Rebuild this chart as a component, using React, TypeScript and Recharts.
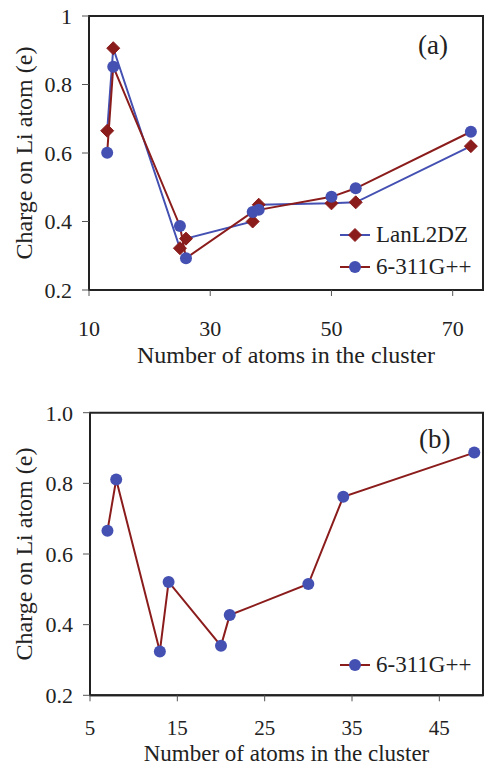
import { LineChart, Line, XAxis, YAxis, Legend, ReferenceArea } from "recharts";

// panel (a)
const atomsA = [13, 14, 25, 26, 37, 38, 50, 54, 73];
const lanl2dzA = [0.665, 0.906, 0.322, 0.35, 0.4, 0.449, 0.453, 0.456, 0.62];
const g311A = [0.601, 0.852, 0.387, 0.293, 0.428, 0.434, 0.472, 0.497, 0.662];
const xTicksA = [10, 30, 50, 70];
const yTicksA = [0.2, 0.4, 0.6, 0.8, 1];

// panel (b)
const atomsB = [7, 8, 13, 14, 20, 21, 30, 34, 49];
const g311B = [0.666, 0.811, 0.324, 0.521, 0.34, 0.427, 0.515, 0.762, 0.887];
const xTicksB = [5, 15, 25, 35, 45];
const yTicksB = [0.2, 0.4, 0.6, 0.8, 1.0];

const BLUE = "#4450b2";
const RED = "#8b1c1c";
const INK = "#222";
const FONT = "Liberation Serif";

const dataA = atomsA.map((n, i) => ({ n, lanl: lanl2dzA[i], g311: g311A[i] }));
const dataB = atomsB.map((n, i) => ({ n, g311: g311B[i] }));

const Diamond = ({ cx, cy }: { cx?: number; cy?: number }) => {
  if (cx == null || cy == null) return null;
  const s = 6.5;
  return (
    <polygon
      points={`${cx},${cy - s} ${cx + s},${cy} ${cx},${cy + s} ${cx - s},${cy}`}
      fill={RED}
      stroke={RED}
    />
  );
};

const YTitle = (props: any) => {
  const vb = props.viewBox || {};
  const x = 24;
  const y = vb.y + vb.height / 2;
  return (
    <text
      x={x}
      y={y}
      transform={`rotate(-90, ${x}, ${y})`}
      textAnchor="middle"
      dominantBaseline="central"
      fontSize={24}
      fontFamily={FONT}
      fill={INK}
    >
      Charge on Li atom (e)
    </text>
  );
};

const LegendRow = ({ line, marker, name }: { line: string; marker: "diamond" | "circle"; name: string }) => (
  <div style={{ display: "flex", alignItems: "center", height: 32 }}>
    <svg width={31} height={20}>
      <line x1={0} y1={10} x2={30} y2={10} stroke={line} strokeWidth={2} />
      {marker === "diamond" ? <Diamond cx={15} cy={10} /> : <circle cx={15} cy={10} r={6} fill={BLUE} />}
    </svg>
    <span style={{ marginLeft: 5 }}>{name}</span>
  </div>
);

const legendContent = (props: any) => {
  const items = [...(props.payload || [])].sort((a: any, b: any) =>
    a.dataKey === "lanl" ? -1 : b.dataKey === "lanl" ? 1 : 0
  );
  return (
    <div style={{ fontFamily: FONT, fontSize: 23, color: INK }}>
      {items.map((p: any) => (
        <LegendRow
          key={p.value}
          name={p.value}
          line={p.color}
          marker={p.dataKey === "lanl" ? "diamond" : "circle"}
        />
      ))}
    </div>
  );
};

const tickStyle = { fontSize: 22, fill: INK, fontFamily: FONT };
const tickStyleB = { fontSize: 21, fill: INK, fontFamily: FONT };

export default function App() {
  return (
    <div style={{ position: "absolute", left: 0, top: 0, width: 484, height: 767, background: "#fff", fontFamily: FONT }}>
      <div style={{ position: "absolute", left: 0, top: 0 }}>
        <LineChart width={484} height={380} data={dataA} margin={{ top: 16, right: 1, left: 0, bottom: 0 }}>
          <XAxis
            dataKey="n"
            type="number"
            domain={[10, 75]}
            ticks={xTicksA}
            height={90}
            tick={tickStyle}
            tickSize={6}
            tickMargin={24}
            axisLine={{ stroke: INK, strokeWidth: 2 }}
            tickLine={{ stroke: "#555" }}
            label={{ value: "Number of atoms in the cluster", position: "insideBottom", offset: 17, fontSize: 24, fill: INK, fontFamily: FONT }}
          />
          <YAxis
            type="number"
            domain={[0.2, 1]}
            ticks={yTicksA}
            width={89}
            tick={tickStyle}
            tickSize={7}
            tickMargin={10}
            axisLine={{ stroke: INK, strokeWidth: 2 }}
            tickLine={{ stroke: "#555" }}
            label={YTitle}
          />
          <ReferenceArea x1={10} x2={75} y1={0.2} y2={1} fill="none" stroke={INK} strokeWidth={2} />
          <Legend
            layout="vertical"
            align="center"
            verticalAlign="middle"
            content={legendContent}
            wrapperStyle={{ left: 340, top: 219, width: "auto", margin: 0 }}
          />
          <Line
            dataKey="lanl"
            name="LanL2DZ"
            stroke={BLUE}
            strokeWidth={2}
            dot={(p: any) => <Diamond key={`d${p.index}`} cx={p.cx} cy={p.cy} />}
            isAnimationActive={false}
          />
          <Line
            dataKey="g311"
            name="6-311G++"
            stroke={RED}
            strokeWidth={2}
            dot={{ r: 6, fill: BLUE, stroke: BLUE, strokeWidth: 0 }}
            isAnimationActive={false}
          />
        </LineChart>
        <div style={{ position: "absolute", left: 418, top: 30, fontSize: 27, color: INK, fontFamily: FONT }}>(a)</div>
      </div>

      <div style={{ position: "absolute", left: 0, top: 390 }}>
        <LineChart width={484} height={377} data={dataB} margin={{ top: 22.7, right: 1, left: 0, bottom: 0 }}>
          <XAxis
            dataKey="n"
            type="number"
            domain={[5, 50]}
            ticks={xTicksB}
            height={71.7}
            tick={tickStyleB}
            tickSize={6}
            tickMargin={19}
            axisLine={{ stroke: INK, strokeWidth: 2 }}
            tickLine={{ stroke: "#555" }}
            label={{ value: "Number of atoms in the cluster", position: "insideBottom", offset: 6, fontSize: 23, fill: INK, fontFamily: FONT }}
          />
          <YAxis
            type="number"
            domain={[0.2, 1]}
            ticks={yTicksB}
            tickFormatter={(v: number) => v.toFixed(1)}
            width={90}
            tick={tickStyle}
            tickSize={7}
            tickMargin={10}
            axisLine={{ stroke: INK, strokeWidth: 2 }}
            tickLine={{ stroke: "#555" }}
            label={YTitle}
          />
          <ReferenceArea x1={5} x2={50} y1={0.2} y2={1} fill="none" stroke={INK} strokeWidth={2} />
          <Legend
            layout="vertical"
            align="center"
            verticalAlign="middle"
            content={legendContent}
            wrapperStyle={{ left: 340, top: 259, width: "auto", margin: 0 }}
          />
          <Line
            dataKey="g311"
            name="6-311G++"
            stroke={RED}
            strokeWidth={2}
            dot={{ r: 6, fill: BLUE, stroke: BLUE, strokeWidth: 0 }}
            isAnimationActive={false}
          />
        </LineChart>
        <div style={{ position: "absolute", left: 419, top: 34, fontSize: 27, color: INK, fontFamily: FONT }}>(b)</div>
      </div>
    </div>
  );
}
